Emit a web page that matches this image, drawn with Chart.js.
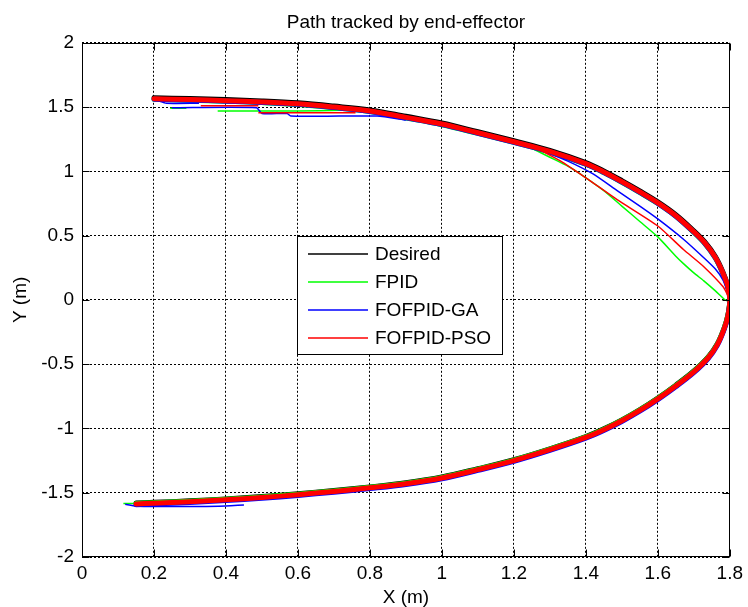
<!DOCTYPE html>
<html>
<head>
<meta charset="utf-8">
<script src="https://cdn.jsdelivr.net/npm/chart.js@4.4.0/dist/chart.umd.min.js"></script>
<style>
html,body{margin:0;padding:0;background:#fff;}
#wrap{width:748px;height:607px;}
</style>
</head>
<body>
<div id="wrap"><canvas id="c" width="748" height="607"></canvas></div>
<script>
const FONT = "'Liberation Sans', Arial, Helvetica, sans-serif";
const titleText = 'Path tracked by end-effector';
const xTitle = 'X (m)';
const yTitle = 'Y (m)';
const seriesNames = ['Desired', 'FPID', 'FOFPID-GA', 'FOFPID-PSO'];
const seriesColors = ['#000000', '#00ff00', '#0000ff', '#ff0000'];

const xTicks = [0, 0.2, 0.4, 0.6, 0.8, 1, 1.2, 1.4, 1.6, 1.8];
const xTickLabels = ['0', '0.2', '0.4', '0.6', '0.8', '1', '1.2', '1.4', '1.6', '1.8'];
const yTicks = [-2, -1.5, -1, -0.5, 0, 0.5, 1, 1.5, 2];
const yTickLabels = ['-2', '-1.5', '-1', '-0.5', '0', '0.5', '1', '1.5', '2'];

// main tracked band (x shared by all four series): upper arc, then lower arc
const pathX = [0.20,0.30,0.40,0.50,0.60,0.70,0.80,0.90,1.00,1.10,1.20,1.30,1.40,1.45,1.50,1.55,1.60,1.65,1.70,1.73,1.76,1.78,1.795,1.80,
               1.795,1.785,1.765,1.74,1.70,1.65,1.60,1.55,1.50,1.45,1.40,1.30,1.20,1.10,1.00,0.90,0.80,0.70,0.60,0.50,0.40,0.30,0.20,0.15];
const desiredY = [1.573,1.566,1.558,1.548,1.533,1.508,1.478,1.428,1.376,1.308,1.238,1.163,1.068,1.003,0.928,0.848,0.763,0.663,0.538,0.453,0.338,0.223,0.105,0.000,
                  -0.113,-0.213,-0.343,-0.443,-0.553,-0.663,-0.763,-0.853,-0.933,-1.003,-1.063,-1.158,-1.243,-1.313,-1.378,-1.423,-1.455,-1.483,-1.508,-1.530,-1.548,-1.563,-1.575,-1.580];
const fpidY = [1.560,1.553,1.545,1.535,1.520,1.495,1.465,1.415,1.363,1.295,1.225,1.150,1.055,0.990,0.915,0.835,0.750,0.650,0.525,0.440,0.325,0.210,0.097,0.000,
               -0.116,-0.216,-0.346,-0.446,-0.556,-0.666,-0.766,-0.856,-0.936,-1.006,-1.066,-1.161,-1.246,-1.316,-1.381,-1.426,-1.458,-1.486,-1.511,-1.533,-1.551,-1.566,-1.578,-1.583];
const gaY = [1.561,1.554,1.546,1.536,1.521,1.496,1.466,1.416,1.364,1.296,1.226,1.151,1.056,0.991,0.916,0.836,0.751,0.651,0.526,0.441,0.326,0.211,0.098,0.000,
             -0.126,-0.226,-0.356,-0.456,-0.566,-0.676,-0.776,-0.866,-0.946,-1.016,-1.076,-1.171,-1.256,-1.326,-1.391,-1.436,-1.468,-1.496,-1.521,-1.543,-1.561,-1.576,-1.588,-1.593];
const psoY = [1.565,1.558,1.550,1.540,1.525,1.500,1.470,1.420,1.368,1.300,1.230,1.155,1.060,0.995,0.920,0.840,0.755,0.655,0.530,0.445,0.330,0.215,0.100,0.000,
              -0.120,-0.220,-0.350,-0.450,-0.560,-0.670,-0.770,-0.860,-0.940,-1.010,-1.070,-1.165,-1.250,-1.320,-1.385,-1.430,-1.462,-1.490,-1.515,-1.537,-1.555,-1.570,-1.582,-1.587];

// transient (first pass) excursions, null = break
const fpidTX = [0.115,0.20,null,0.245,0.29,null,0.377,0.60,0.72,null,1.25,1.30,1.35,1.40,1.45,1.50,1.55,1.60,1.65,1.672,1.70,1.727,1.76,1.787,1.795,1.80];
const fpidTY = [-1.583,-1.585,null,1.49,1.49,null,1.47,1.47,1.475,null,1.18,1.11,1.04,0.95,0.85,0.73,0.61,0.49,0.34,0.28,0.21,0.15,0.07,0.0,-0.01,-0.03];
const gaTX = [0.12,0.15,0.38,0.45,null,0.21,0.235,0.325,null,0.25,0.485,0.50,0.57,0.58,0.715,0.82,0.90,null,1.28,1.35,1.42,1.487,1.55,1.60,1.672,1.727,1.76,1.782,1.795];
const gaTY = [-1.59,-1.605,-1.605,-1.595,null,1.55,1.53,1.53,null,1.495,1.495,1.45,1.45,1.43,1.43,1.43,1.40,null,1.16,1.08,0.98,0.85,0.73,0.63,0.47,0.33,0.24,0.15,0.05];
const psoTX = [0.33,0.49,null,0.49,0.68,0.76,null,1.26,1.33,1.40,1.487,1.60,1.672,1.727,1.782,1.797];
const psoTY = [1.51,1.51,null,1.455,1.455,1.455,null,1.185,1.08,0.95,0.78,0.575,0.39,0.26,0.10,0.02];

function pts(xs, ys) { return xs.map((x, i) => ({ x: x === null ? 0 : x, y: ys[i] })); }

function band(ys, color, order) {
  return { data: pts(pathX, ys), borderColor: color, backgroundColor: color,
           borderWidth: 5, showLine: true, pointRadius: 0, tension: 0.35, fill: false, spanGaps: false, order: order,
           borderJoinStyle: 'round', borderCapStyle: 'round' };
}
function trans(xs, ys, color, order) {
  return { data: pts(xs, ys), borderColor: color, backgroundColor: color,
           borderWidth: 1.5, showLine: true, pointRadius: 0, tension: 0.2, fill: false, spanGaps: false, order: order };
}

const datasets = [
  band(desiredY, seriesColors[0], 7),
  band(fpidY, seriesColors[1], 6),
  trans(fpidTX, fpidTY, seriesColors[1], 5),
  band(gaY, seriesColors[2], 4),
  trans(gaTX, gaTY, seriesColors[2], 3),
  band(psoY, seriesColors[3], 1),
  trans(psoTX, psoTY, seriesColors[3], 0)
];
datasets[0].label = seriesNames[0];
datasets[1].label = seriesNames[1];
datasets[3].label = seriesNames[2];
datasets[5].label = seriesNames[3];

const framePlugin = {
  id: 'frame',
  afterDatasetsDraw(chart) {
    const ctx = chart.ctx, a = chart.chartArea;
    const xs = chart.scales.x, ys = chart.scales.y;
    const L = Math.round(a.left) + 0.5, R = Math.round(a.right) - 0.5;
    const T = Math.round(a.top) + 0.5, B = Math.round(a.bottom) - 0.5;
    ctx.save();
    ctx.strokeStyle = '#000'; ctx.lineWidth = 1; ctx.setLineDash([]);
    ctx.strokeRect(L, T, R - L, B - T);
    const tl = 7;
    ctx.beginPath();
    xTicks.forEach(v => {
      const p = Math.round(xs.getPixelForValue(v)) + 0.5;
      ctx.moveTo(p, B); ctx.lineTo(p, B - tl);
      ctx.moveTo(p, T); ctx.lineTo(p, T + tl);
    });
    yTicks.forEach(v => {
      const p = Math.round(ys.getPixelForValue(v)) + 0.5;
      ctx.moveTo(L, p); ctx.lineTo(L + tl, p);
      ctx.moveTo(R, p); ctx.lineTo(R - tl, p);
    });
    ctx.stroke();
    ctx.restore();
  },
  afterDraw(chart) {
    const ctx = chart.ctx;
    const bx = 297.5, by = 236.5, bw = 205, bh = 118;
    ctx.save();
    ctx.fillStyle = '#fff';
    ctx.fillRect(bx, by, bw, bh);
    ctx.strokeStyle = '#000'; ctx.lineWidth = 1; ctx.setLineDash([]);
    ctx.strokeRect(bx, by, bw, bh);
    ctx.font = '19px ' + FONT;
    ctx.textBaseline = 'middle';
    ctx.textAlign = 'left';
    seriesNames.forEach((name, i) => {
      const y = 254 + i * 28;
      ctx.strokeStyle = seriesColors[i];
      ctx.lineWidth = 1.6;
      ctx.beginPath(); ctx.moveTo(308, y); ctx.lineTo(368, y); ctx.stroke();
      ctx.fillStyle = '#000';
      ctx.fillText(name, 375, y + 0.5);
    });
    ctx.restore();
  }
};

new Chart(document.getElementById('c'), {
  type: 'scatter',
  data: { datasets: datasets },
  options: {
    responsive: false,
    animation: false,
    devicePixelRatio: 1,
    layout: { padding: { left: 0, right: 15, top: 0, bottom: 0 } },
    plugins: {
      legend: { display: false },
      tooltip: { enabled: false },
      title: {
        display: true, text: titleText, fullSize: false, color: '#000',
        font: { family: FONT, size: 19, weight: 'normal', lineHeight: 1.2 },
        padding: { top: 11, bottom: 9 }
      }
    },
    scales: {
      x: {
        type: 'linear', position: 'bottom', min: 0, max: 1.8,
        afterFit: s => { s.height = 50; },
        afterBuildTicks: s => { s.ticks = xTicks.map(v => ({ value: v })); },
        ticks: { callback: (v, i) => xTickLabels[i], color: '#000', font: { family: FONT, size: 19 }, padding: 5, maxRotation: 0, autoSkip: false },
        grid: { color: '#000', lineWidth: 1, drawTicks: false },
        border: { display: false, dash: [2, 2] },
        title: { display: true, text: xTitle, color: '#000', font: { family: FONT, size: 19, lineHeight: 1 }, padding: { top: 0, bottom: 0 } }
      },
      y: {
        type: 'linear', position: 'left', min: -2, max: 2,
        afterFit: s => { s.width = 82; },
        afterBuildTicks: s => { s.ticks = yTicks.map(v => ({ value: v })); },
        ticks: { callback: (v, i) => yTickLabels[i], color: '#000', font: { family: FONT, size: 19 }, padding: 8, autoSkip: false },
        grid: { color: '#000', lineWidth: 1, drawTicks: false },
        border: { display: false, dash: [2, 2] },
        title: { display: true, text: yTitle, color: '#000', font: { family: FONT, size: 19, lineHeight: 1 }, padding: { top: 11, bottom: 0 } }
      }
    }
  },
  plugins: [framePlugin]
});
</script>
</body>
</html>
